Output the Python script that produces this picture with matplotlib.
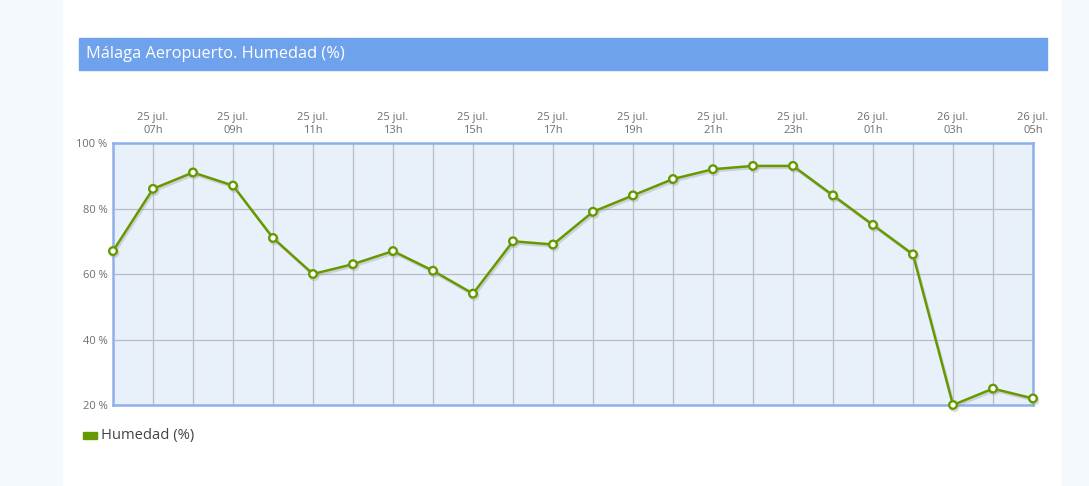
import numpy as np
import matplotlib.pyplot as plt
import matplotlib.patheffects as pe
from matplotlib.patches import Rectangle

plt.rcParams['font.family'] = ['Open Sans', 'DejaVu Sans']

# hourly humidity, 25 jul. 06h -> 26 jul. 05h
hours = list(range(24))
humedad = [67, 86, 91, 87, 71, 60, 63, 67, 61, 54, 70, 69,
           79, 84, 89, 92, 93, 93, 84, 75, 66, 20, 25, 22]
tick_labels = ['25 jul.\n07h', '25 jul.\n09h', '25 jul.\n11h', '25 jul.\n13h',
               '25 jul.\n15h', '25 jul.\n17h', '25 jul.\n19h', '25 jul.\n21h',
               '25 jul.\n23h', '26 jul.\n01h', '26 jul.\n03h', '26 jul.\n05h']
yticks = [20, 40, 60, 80, 100]

green = '#669900'
border = '#8fb0ea'

fig = plt.figure(figsize=(10.89, 4.86), dpi=100)
fig.patch.set_facecolor('white')

# faint page background at the sides
fig.patches.append(Rectangle((0, 0), 62 / 1089, 1, transform=fig.transFigure,
                             color='#f4f9fd', zorder=0))
fig.patches.append(Rectangle((1062 / 1089, 0), 27 / 1089, 1, transform=fig.transFigure,
                             color='#f4f9fd', zorder=0))

# title bar
fig.patches.append(Rectangle((79 / 1089, 1 - 70 / 486), 968 / 1089, 32 / 486,
                             transform=fig.transFigure, color='#6fa2ec', zorder=1))
fig.text(86 / 1089, 1 - 54 / 486, 'Málaga Aeropuerto. Humedad (%)', color='white',
         fontsize=11.8, va='center', ha='left')

ax = fig.add_axes([113 / 1089, 1 - 405 / 486, 920 / 1089, 262 / 486])
ax.set_facecolor('#e8f0fa')

ax.plot(hours, humedad, color=green, linewidth=1.8, marker='o', markersize=5.5,
        markerfacecolor='white', markeredgecolor=green, markeredgewidth=1.7,
        clip_on=False, zorder=5,
        path_effects=[pe.SimpleLineShadow(offset=(1, -1.5), shadow_color='#999999', alpha=0.35),
                      pe.Normal()])

ax.set_xlim(0, 23)
ax.set_ylim(20, 100)
ax.set_xticks(hours, minor=True)
ax.set_xticks(hours[1::2])
ax.set_xticklabels(tick_labels)
ax.set_yticks(yticks)
ax.set_yticklabels(['{} %'.format(v) for v in yticks])

ax.xaxis.tick_top()
ax.tick_params(axis='both', which='both', length=0, colors='#6e6e6e', labelsize=8)
ax.tick_params(axis='x', pad=5)
ax.tick_params(axis='y', pad=4)
ax.grid(True, which='both', axis='x', color='#b9bdca', linewidth=0.9)
ax.grid(True, which='major', axis='y', color='#b9bdca', linewidth=0.9)
ax.set_axisbelow(True)
for s in ax.spines.values():
    s.set_color(border)
    s.set_linewidth(1.8)

# legend
fig.patches.append(Rectangle((83 / 1089, 1 - 439 / 486), 14 / 1089, 7 / 486,
                             transform=fig.transFigure, color=green, zorder=2))
fig.text(101 / 1089, 1 - 435 / 486, 'Humedad (%)', color='#444444',
         fontsize=10.6, va='center', ha='left')

fig.savefig('out.png', dpi=100, facecolor=fig.get_facecolor())
